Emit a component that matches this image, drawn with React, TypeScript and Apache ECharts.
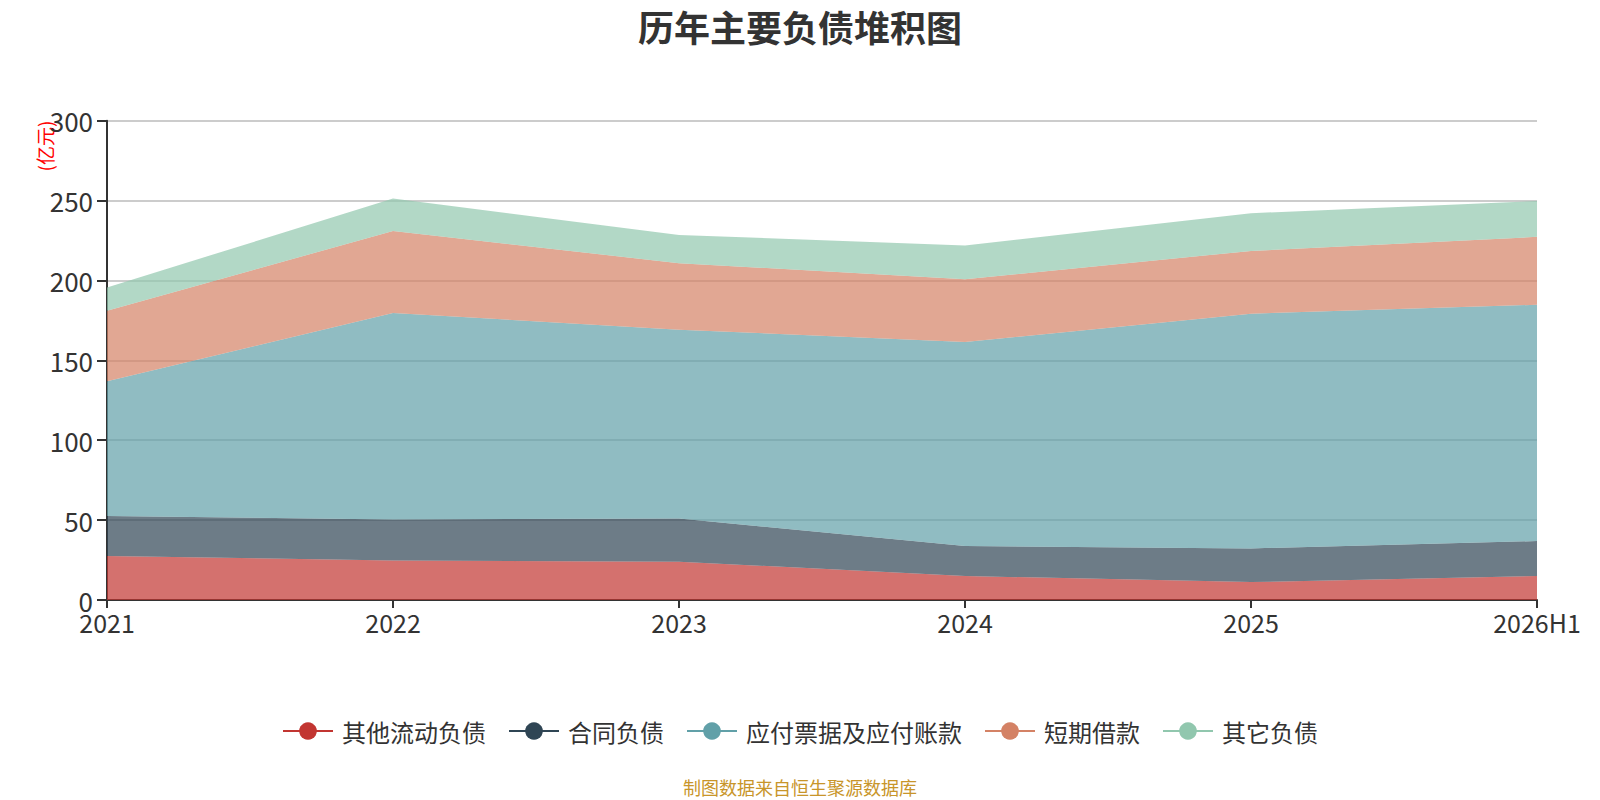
import React, { useEffect, useRef } from "react";
import * as echarts from "echarts";

const categories = ["2021", "2022", "2023", "2024", "2025", "2026H1"];
const seriesNames = ["其他流动负债", "合同负债", "应付票据及应付账款", "短期借款", "其它负债"];
const otherCurrent = [27.5, 24.8, 24.0, 15.0, 11.2, 15.0];
const contract = [25.0, 25.6, 27.0, 18.8, 21.1, 21.9];
const payables = [84.4, 129.2, 118.2, 127.7, 146.9, 147.9];
const shortLoans = [44.1, 51.4, 41.6, 39.3, 39.3, 42.5];
const otherLiab = [14.6, 20.3, 17.7, 21.1, 23.6, 22.5];
const yTicks = [0, 50, 100, 150, 200, 250, 300];
const colors = ["#c23531", "#2f4554", "#61a0a8", "#d48265", "#91c7ae"];

const FONT = "'Noto Sans CJK SC', 'Noto Sans', sans-serif";

export default function App() {
  const ref = useRef<HTMLDivElement>(null);
  useEffect(() => {
    document.body.style.margin = "0";
    if (!ref.current) return;
    const chart = echarts.init(ref.current, null, { renderer: "svg" });
    const data = [otherCurrent, contract, payables, shortLoans, otherLiab];
    chart.setOption({
      animation: false,
      color: colors,
      textStyle: { fontFamily: FONT },
      title: {
        text: "历年主要负债堆积图",
        left: "center",
        top: 3,
        textStyle: { fontSize: 36, fontWeight: "bold", color: "#333", fontFamily: FONT },
      },
      grid: { left: 107, right: 63, top: 120.7, bottom: 200 },
      legend: {
        data: seriesNames,
        top: 714,
        left: "center",
        itemWidth: 50,
        itemHeight: 22,
        itemGap: 22,
        textStyle: { fontSize: 24, color: "#333", fontFamily: FONT, padding: [0, 0, 0, 4] },
        lineStyle: { width: 2, opacity: 1 },
      },
      xAxis: {
        type: "category",
        data: categories,
        boundaryGap: false,
        axisLine: { lineStyle: { color: "#333", width: 2 } },
        axisTick: { show: true, length: 8, lineStyle: { color: "#333", width: 2 } },
        axisLabel: { fontSize: 25, color: "#333", margin: 9 },
      },
      yAxis: {
        type: "value",
        min: yTicks[0],
        max: yTicks[yTicks.length - 1],
        interval: 50,
        axisLine: { show: true, lineStyle: { color: "#333", width: 2 } },
        axisTick: { show: true, length: 10, lineStyle: { color: "#333", width: 2 } },
        axisLabel: { fontSize: 26, color: "#333", margin: 14 },
        splitLine: { show: true, lineStyle: { color: "#ccc", width: 2 } },
      },
      graphic: [
        {
          type: "text",
          x: 44,
          y: 146,
          rotation: Math.PI / 2,
          style: {
            text: "(亿元)",
            fill: "#ff0000",
            fontSize: 19,
            fontFamily: FONT,
            align: "center",
            verticalAlign: "middle",
          },
        },
        {
          type: "text",
          x: 800,
          y: 787,
          style: {
            text: "制图数据来自恒生聚源数据库",
            fill: "#c8952a",
            fontSize: 18,
            fontFamily: FONT,
            align: "center",
            verticalAlign: "middle",
          },
        },
      ],
      series: seriesNames.map((name, i) => ({
        name,
        type: "line",
        stack: "total",
        data: data[i],
        symbol: "circle",
        showSymbol: false,
        lineStyle: { width: 0 },
        areaStyle: { opacity: 0.7 },
      })),
    });
    return () => chart.dispose();
  }, []);
  return (
    <div
      ref={ref}
      style={{ position: "absolute", left: 0, top: 0, width: 1600, height: 800 }}
    />
  );
}
